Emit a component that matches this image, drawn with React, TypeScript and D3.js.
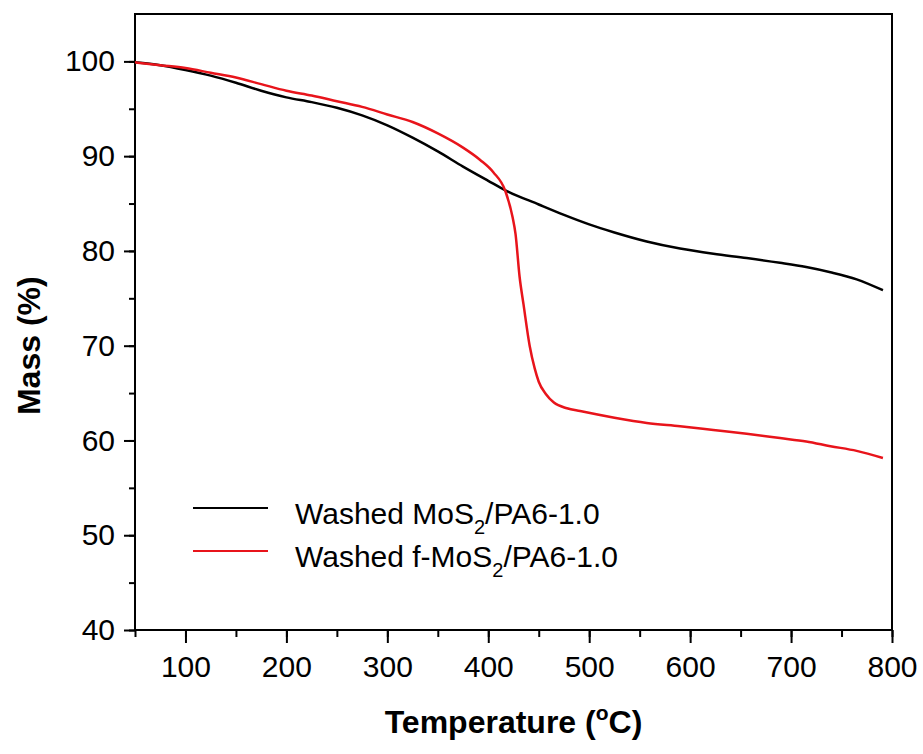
import React, { useEffect, useRef } from "react";
import * as d3 from "d3";

// temperature (°C) sample points
const washedTemps = [50, 75, 100, 125, 150, 175, 200, 225, 250, 275, 300, 325, 350, 375, 400, 417, 450, 475, 500, 525, 557, 590, 623, 656, 689, 715, 739, 765, 791];
const washedMass = [99.9, 99.6, 99.1, 98.5, 97.75, 96.9, 96.2, 95.7, 95.1, 94.3, 93.25, 91.95, 90.5, 88.9, 87.4, 86.4, 84.9, 83.8, 82.8, 81.95, 81.0, 80.25, 79.7, 79.25, 78.75, 78.3, 77.75, 77.0, 75.85];

const fTemps = [50, 75, 100, 125, 150, 175, 200, 225, 250, 275, 300, 325, 350, 375, 392, 405, 417, 424, 427, 431, 435, 441, 446, 450, 457, 465, 478, 491, 525, 557, 590, 623, 656, 689, 715, 739, 765, 791];
const fMass = [99.9, 99.6, 99.3, 98.8, 98.3, 97.6, 96.9, 96.4, 95.8, 95.2, 94.4, 93.6, 92.4, 90.9, 89.6, 88.3, 86.3, 83.6, 81.8, 77.3, 74.3, 70.0, 67.6, 66.2, 64.9, 64.0, 63.4, 63.1, 62.4, 61.85, 61.5, 61.1, 60.7, 60.25, 59.9, 59.4, 58.9, 58.15];

const xTicks = [100, 200, 300, 400, 500, 600, 700, 800];
const yTicks = [40, 50, 60, 70, 80, 90, 100];

const seriesNames = ["Washed MoS", "Washed f-MoS"];
const seriesColors = ["#000000", "#e8141b"];

const FONT = "Arial, 'Liberation Sans', sans-serif";

const App = () => {
  const ref = useRef<SVGSVGElement>(null);

  useEffect(() => {
    const svg = d3.select(ref.current);
    svg.selectAll("*").remove();

    const width = 923;
    const height = 754;
    const margin = { top: 14, right: 31, bottom: 124, left: 135 };

    const x = d3.scaleLinear().domain([50, 800]).range([margin.left, width - margin.right]);
    const y = d3.scaleLinear().domain([40, 105]).range([height - margin.bottom, margin.top]);

    // frame (top + right lines)
    svg.append("rect")
      .attr("x", margin.left)
      .attr("y", margin.top)
      .attr("width", width - margin.right - margin.left)
      .attr("height", height - margin.bottom - margin.top)
      .attr("fill", "none")
      .attr("stroke", "#000")
      .attr("stroke-width", 2);

    // bottom axis: minor + major ticks
    const xAxisG = svg.append("g").attr("transform", `translate(0,${height - margin.bottom})`);
    xAxisG.call(
      d3.axisBottom(x).tickValues(d3.range(50, 801, 50)).tickSize(7).tickFormat(() => "")
    );
    xAxisG.append("g").call(
      d3.axisBottom(x).tickValues(xTicks).tickSize(13).tickPadding(13).tickFormat(d3.format("d"))
    );
    xAxisG.selectAll("path").remove();
    xAxisG.selectAll("line").attr("stroke", "#000").attr("stroke-width", 2);
    xAxisG.selectAll("text")
      .attr("font-family", FONT)
      .attr("font-size", 30)
      .attr("fill", "#000");

    const yAxisG = svg.append("g").attr("transform", `translate(${margin.left},0)`);
    yAxisG.call(
      d3.axisLeft(y).tickValues(d3.range(40, 101, 5)).tickSize(6).tickFormat(() => "")
    );
    yAxisG.append("g").call(
      d3.axisLeft(y).tickValues(yTicks).tickSize(11).tickPadding(9).tickFormat(d3.format("d"))
    );
    yAxisG.selectAll("path").remove();
    yAxisG.selectAll("line").attr("stroke", "#000").attr("stroke-width", 2);
    yAxisG.selectAll("text")
      .attr("font-family", FONT)
      .attr("font-size", 30)
      .attr("fill", "#000");

    const lineGen = d3.line<[number, number]>()
      .x(d => x(d[0]))
      .y(d => y(d[1]))
      .curve(d3.curveMonotoneX);

    const series: [number, number][][] = [
      washedTemps.map((t, i) => [t, washedMass[i]]),
      fTemps.map((t, i) => [t, fMass[i]]),
    ];

    series.forEach((pts, i) => {
      svg.append("path")
        .datum(pts)
        .attr("fill", "none")
        .attr("stroke", seriesColors[i])
        .attr("stroke-width", 2.5)
        .attr("d", lineGen);
    });

    // legend
    const legendY = [508, 551];
    seriesNames.forEach((name, i) => {
      svg.append("line")
        .attr("x1", 193)
        .attr("x2", 268)
        .attr("y1", legendY[i])
        .attr("y2", legendY[i])
        .attr("stroke", seriesColors[i])
        .attr("stroke-width", 2);
      const t = svg.append("text")
        .attr("x", 295)
        .attr("y", legendY[i] + 16)
        .attr("font-family", FONT)
        .attr("font-size", 30)
        .attr("fill", "#000");
      t.append("tspan").text(name);
      t.append("tspan").attr("font-size", 20).attr("dy", 10).text("2");
      t.append("tspan").attr("dy", -10).text("/PA6-1.0");
    });

    // axis titles
    const xt = svg.append("text")
      .attr("x", (margin.left + width - margin.right) / 2)
      .attr("y", 733)
      .attr("text-anchor", "middle")
      .attr("font-family", FONT)
      .attr("font-weight", "bold")
      .attr("font-size", 32)
      .attr("fill", "#000");
    xt.append("tspan").text("Temperature (");
    xt.append("tspan").attr("font-size", 21).attr("dy", -13).text("o");
    xt.append("tspan").attr("dy", 13).text("C)");

    svg.append("text")
      .attr("transform", `translate(40,${y(70)}) rotate(-90)`)
      .attr("text-anchor", "middle")
      .attr("font-family", FONT)
      .attr("font-weight", "bold")
      .attr("font-size", 32)
      .attr("fill", "#000")
      .text("Mass (%)");
  }, []);

  return (
    <div style={{ position: "absolute", left: 0, top: 0 }}>
      <svg ref={ref} width={923} height={754} style={{ display: "block", background: "#fff" }}></svg>
    </div>
  );
};

export default App;
